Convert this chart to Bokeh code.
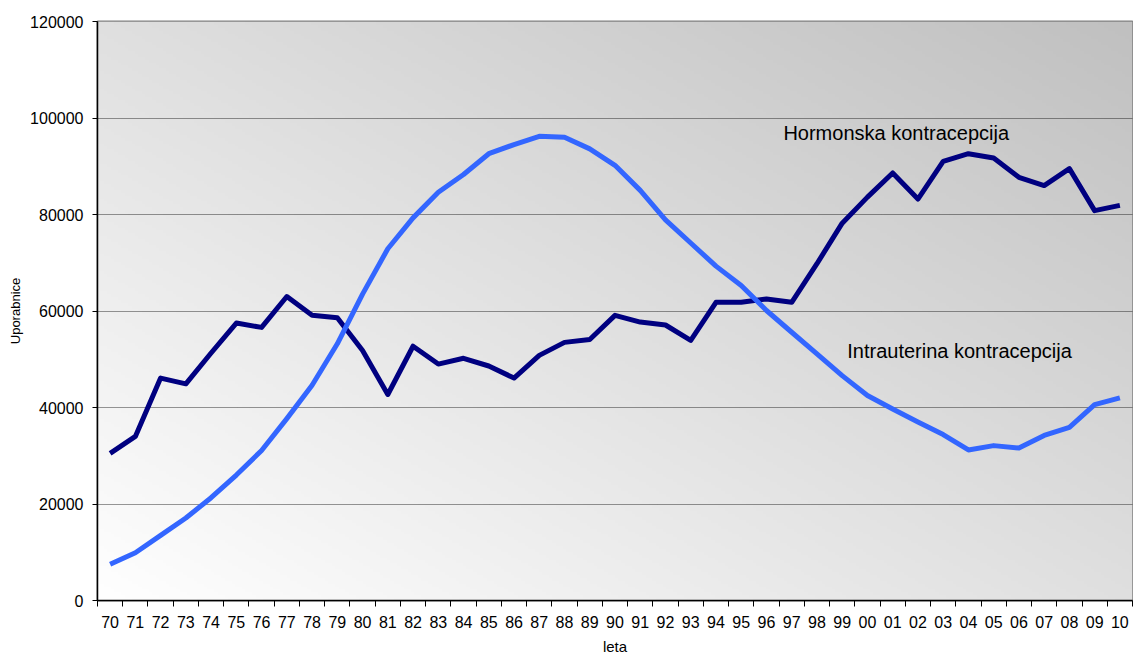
import numpy as np
from bokeh.plotting import figure
from bokeh.models import FixedTicker, Range1d, NumeralTickFormatter
from bokeh.core.properties import value
from bokeh.embed import file_html
from bokeh.resources import INLINE

# ---- data ----
years = ["70", "71", "72", "73", "74", "75", "76", "77", "78", "79",
         "80", "81", "82", "83", "84", "85", "86", "87", "88", "89",
         "90", "91", "92", "93", "94", "95", "96", "97", "98", "99",
         "00", "01", "02", "03", "04", "05", "06", "07", "08", "09", "10"]
hormonska = [30500, 34000, 46100, 44900, 51300, 57500, 56600, 63000, 59100, 58600,
             51800, 42700, 52700, 49000, 50200, 48600, 46100, 50800, 53500, 54100,
             59100, 57700, 57100, 53900, 61800, 61800, 62500, 61800, 69800, 78200,
             83600, 88600, 83200, 91000, 92600, 91700, 87700, 86000, 89500, 80800, 81900]
intrauterina = [7500, 9900, 13500, 17100, 21300, 26000, 31100, 37700, 44600, 53200,
                63500, 72900, 79300, 84600, 88300, 92600, 94500, 96200, 96000, 93600,
                90200, 85000, 78900, 74100, 69300, 65300, 60100, 55600, 51100, 46600,
                42500, 39700, 37000, 34400, 31200, 32100, 31600, 34200, 35900, 40600, 42000]
y_ticks = [0, 20000, 40000, 60000, 80000, 100000, 120000]
grid_ticks = [20000, 40000, 60000, 80000, 100000]
label_h = "Hormonska kontracepcija"
label_i = "Intrauterina kontracepcija"

FONT = "Liberation Sans"
n = len(years)
xs = list(range(n))

p = figure(width=1133, height=657, output_backend="svg", toolbar_location=None,
           x_range=Range1d(-0.5, n - 0.5), y_range=Range1d(0, 120000),
           min_border_left=97, min_border_top=21, min_border_right=1,
           min_border_bottom=56)
p.background_fill_color = "white"
p.border_fill_color = "white"
p.outline_line_color = "#808080"
p.outline_line_width = 2

# gradient background of the plot area
H, W = 200, 300
u = np.linspace(0, 1, W)[None, :]
v = np.linspace(0, 1, H)[:, None]
t = (u + v) / 2.0
g = (255 - 63 * t).astype(np.uint32)
img = (255 << 24) | (g << 16) | (g << 8) | g
p.image_rgba(image=[img.astype(np.uint32)], x=-0.5, y=0, dw=n, dh=120000, level="image")

# lines
p.line(xs, hormonska, line_color="#000080", line_width=5, line_join="round")
p.line(xs, intrauterina, line_color="#3366FF", line_width=5, line_join="round")

# annotations
p.text(x=[26.67], y=[96900], text=[label_h], text_font=value(FONT),
       text_font_size="20px", text_color="#000000",
       text_align="left", text_baseline="middle")
p.text(x=[29.2], y=[51800], text=[label_i], text_font=value(FONT),
       text_font_size="20px", text_color="#000000",
       text_align="left", text_baseline="middle")

# x axis
xa = p.xaxis[0]
xa.ticker = FixedTicker(ticks=xs, minor_ticks=[i - 0.5 for i in range(n + 1)])
xa.major_label_overrides = {i: years[i] for i in xs}
xa.major_tick_out = 0
xa.major_tick_in = 0
xa.minor_tick_out = 6
xa.minor_tick_in = 0
xa.minor_tick_line_color = "#000000"
xa.axis_line_color = "#000000"
xa.axis_line_width = 1.5
xa.major_label_text_font = FONT
xa.major_label_text_font_size = "16px"
xa.major_label_text_color = "#000000"
xa.major_label_standoff = 9
xa.axis_label = "leta"
xa.axis_label_text_font = FONT
xa.axis_label_text_font_size = "15px"
xa.axis_label_text_font_style = "normal"
xa.axis_label_text_color = "#000000"
xa.axis_label_standoff = 7

# y axis
ya = p.yaxis[0]
ya.ticker = FixedTicker(ticks=y_ticks, minor_ticks=[])
ya.formatter = NumeralTickFormatter(format="0")
ya.major_tick_out = 5
ya.major_tick_in = 0
ya.major_tick_line_color = "#000000"
ya.axis_line_color = "#000000"
ya.axis_line_width = 1.5
ya.major_label_text_font = FONT
ya.major_label_text_font_size = "16px"
ya.major_label_text_color = "#000000"
ya.major_label_standoff = 9
ya.axis_label = "Uporabnice"
ya.axis_label_text_font = FONT
ya.axis_label_text_font_size = "13px"
ya.axis_label_text_font_style = "normal"
ya.axis_label_text_color = "#000000"
ya.axis_label_standoff = 4

# grids
p.xgrid.grid_line_color = None
p.ygrid.ticker = FixedTicker(ticks=grid_ticks)
p.ygrid.grid_line_color = "#000000"
p.ygrid.grid_line_alpha = 0.8
p.ygrid.grid_line_width = 1
p.ygrid.grid_line_dash = "1 1"

open("out.html", "w").write(file_html(p, INLINE))
